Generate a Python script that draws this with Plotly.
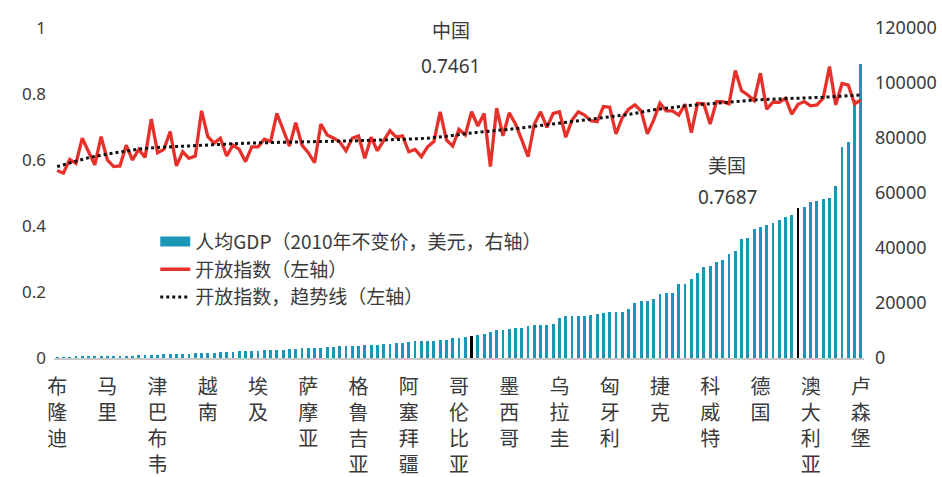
import plotly.graph_objects as go

# ---------------- data ----------------
# GDP per capita (constant 2010 USD), countries sorted ascending
gdp = [230, 300, 350, 380, 400, 440, 480, 560, 620, 660,
       700, 850, 900, 950, 980, 1020, 1100, 1400, 1500, 1550,
       1580, 1620, 1650, 1700, 1800, 2000, 2050, 2100, 2350, 2400,
       2450, 2600, 2700, 3020, 3020, 3020, 3050, 3380, 3380, 3625,
       3625, 3625, 3650, 3990, 3990, 4230, 4470, 4470, 4500, 4830,
       4830, 4850, 5075, 5200, 5440, 5440, 5800, 6040, 6040, 6060,
       6080, 6400, 6650, 7250, 7300, 7700, 7830, 8460, 8700, 9425,
       10030, 10030, 10390, 10875, 11000, 11480, 11840, 11840, 11860, 12450,
       14620, 15100, 15100, 15225, 15400, 15750, 16000, 16310, 16675, 16675,
       16700, 17700, 20180, 20700, 20800, 21390, 23440, 23800, 23800, 26825,
       26825, 28640, 30810, 33230, 33470, 34920, 35645, 37940, 38905, 43140,
       43740, 46760, 47730, 48210, 48940, 50150, 51230, 51960, 54620, 54900,
       56900, 57250, 57900, 58220, 62660, 76600, 78600, 93900, 107000]

# Openness index (left axis)
openness = [0.568, 0.560, 0.602, 0.590, 0.666, 0.625, 0.585, 0.671, 0.600, 0.580,
            0.582, 0.645, 0.600, 0.632, 0.608, 0.724, 0.622, 0.632, 0.686, 0.582,
            0.625, 0.605, 0.612, 0.749, 0.671, 0.651, 0.666, 0.612, 0.645, 0.632,
            0.595, 0.640, 0.640, 0.663, 0.656, 0.741, 0.691, 0.642, 0.713, 0.645,
            0.622, 0.592, 0.709, 0.676, 0.667, 0.655, 0.628, 0.666, 0.673, 0.605,
            0.669, 0.628, 0.659, 0.689, 0.669, 0.673, 0.625, 0.632, 0.610, 0.640,
            0.656, 0.746, 0.661, 0.642, 0.693, 0.676, 0.7461, 0.703, 0.741, 0.580,
            0.757, 0.673, 0.743, 0.709, 0.661, 0.610, 0.709, 0.746, 0.699, 0.741,
            0.746, 0.669, 0.721, 0.746, 0.736, 0.719, 0.716, 0.762, 0.760, 0.679,
            0.728, 0.754, 0.767, 0.749, 0.679, 0.721, 0.772, 0.749, 0.749, 0.736,
            0.769, 0.683, 0.772, 0.770, 0.709, 0.777, 0.777, 0.770, 0.871, 0.810,
            0.797, 0.780, 0.863, 0.754, 0.775, 0.775, 0.787, 0.739, 0.7687, 0.777,
            0.764, 0.767, 0.787, 0.883, 0.767, 0.832, 0.827, 0.770, 0.782]

# Trend line of the openness index, read at selected ranks
trend_rank = [0, 3, 5, 8, 11, 13, 16, 19, 21, 24, 27, 29, 32, 35, 40, 44,
              49, 54, 59, 62, 66, 73, 82, 85, 91, 95, 100, 106, 111, 116, 122, 128]
trend_val = [0.580, 0.597, 0.607, 0.618, 0.627, 0.633, 0.638, 0.641, 0.644, 0.646,
             0.648, 0.650, 0.652, 0.653, 0.655, 0.657, 0.659, 0.662, 0.666, 0.672,
             0.682, 0.695, 0.716, 0.722, 0.738, 0.752, 0.764, 0.774, 0.782, 0.786,
             0.790, 0.797]

# Labelled countries (every 8th rank)
tick_names = ["布隆迪", "马里", "津巴布韦", "越南", "埃及", "萨摩亚", "格鲁吉亚",
              "阿塞拜疆", "哥伦比亚", "墨西哥", "乌拉圭", "匈牙利", "捷克",
              "科威特", "德国", "澳大利亚", "卢森堡"]
label_step = 8

# Highlighted countries: name, rank, openness value
highlights = [("中国", 66, "0.7461"), ("美国", 118, "0.7687")]

# ---------------- figure ----------------
n = len(gdp)
ranks = list(range(n))
hl_ranks = {r for _, r, _ in highlights}
BAR = "#1A96B6"
bar_colors = ["#000000" if i in hl_ranks else BAR for i in ranks]

CJK = "Noto Sans CJK SC"
TICKCJK = "Liberation Sans, Noto Sans CJK SC"
TXT = "#3a3a3a"

fig = go.Figure()
fig.add_trace(go.Bar(
    x=ranks, y=gdp, name="人均GDP（2010年不变价，美元，右轴）",
    marker=dict(color=bar_colors, line=dict(width=0)),
    width=0.45, yaxis="y", showlegend=False,
))
# legend entry for the bars (wide swatch like the original)
fig.add_trace(go.Scatter(
    x=[None], y=[None], name="人均GDP（2010年不变价，美元，右轴）", mode="lines",
    line=dict(color=BAR, width=14), yaxis="y", hoverinfo="skip",
))
fig.add_trace(go.Scatter(
    x=ranks, y=openness, name="开放指数（左轴）", mode="lines",
    line=dict(color="#E5312A", width=3.3), yaxis="y2",
))
fig.add_trace(go.Scatter(
    x=trend_rank, y=trend_val, name="开放指数，趋势线（左轴）", mode="lines",
    line=dict(color="#111111", width=3, dash="dot"), yaxis="y2",
))

tickvals = list(range(0, n, label_step))
ticktext = ["<br>".join(list(s)) for s in tick_names]

fig.update_layout(
    width=942, height=477,
    margin=dict(l=54, r=78, t=28, b=119),
    plot_bgcolor="white", paper_bgcolor="white",
    font=dict(family=CJK, color=TXT),
    xaxis=dict(range=[-0.5, n - 0.5], tickvals=tickvals, ticktext=ticktext,
               tickangle=0, tickfont=dict(size=20, family=TICKCJK, color=TXT),
               showline=True, linecolor="#C8C8C8", linewidth=2,
               showgrid=False, zeroline=False, ticks="", ticklabelstandoff=10,
               automargin=False),
    yaxis=dict(side="right", range=[0, 120000], dtick=20000, tickformat="d",
               showgrid=False, zeroline=False, showline=False,
               tickfont=dict(size=18, family="Noto Sans", color=TXT),
               ticklabelstandoff=10, automargin=False),
    yaxis2=dict(side="left", overlaying="y", range=[0, 1], dtick=0.2,
                showgrid=False, zeroline=False, showline=False,
                tickfont=dict(size=17, family="Noto Sans", color=TXT),
                ticklabelstandoff=7, automargin=False),
    legend=dict(x=0.125, y=0.41, xanchor="left", yanchor="top",
                font=dict(size=19, family=CJK, color=TXT),
                bgcolor="rgba(0,0,0,0)", tracegroupgap=0, itemwidth=30),
    bargap=0,
    showlegend=True,
)

# annotations for highlighted countries
label_pos = {"中国": (-21, 0.994, 0.885), "美国": (-71, 0.585, 0.488)}
for name, r, val in highlights:
    xs, y1, y2 = label_pos[name]
    fig.add_annotation(x=r, y=y1, xref="x", yref="y2", text=name, showarrow=False,
                       xshift=xs, font=dict(size=19, family=CJK, color=TXT))
    fig.add_annotation(x=r, y=y2, xref="x", yref="y2", text=val, showarrow=False,
                       xshift=xs, font=dict(size=19, family="Noto Sans", color=TXT))

fig.write_html("out.html", config={"displayModeBar": False},
               post_script="document.body.style.margin='0';")
